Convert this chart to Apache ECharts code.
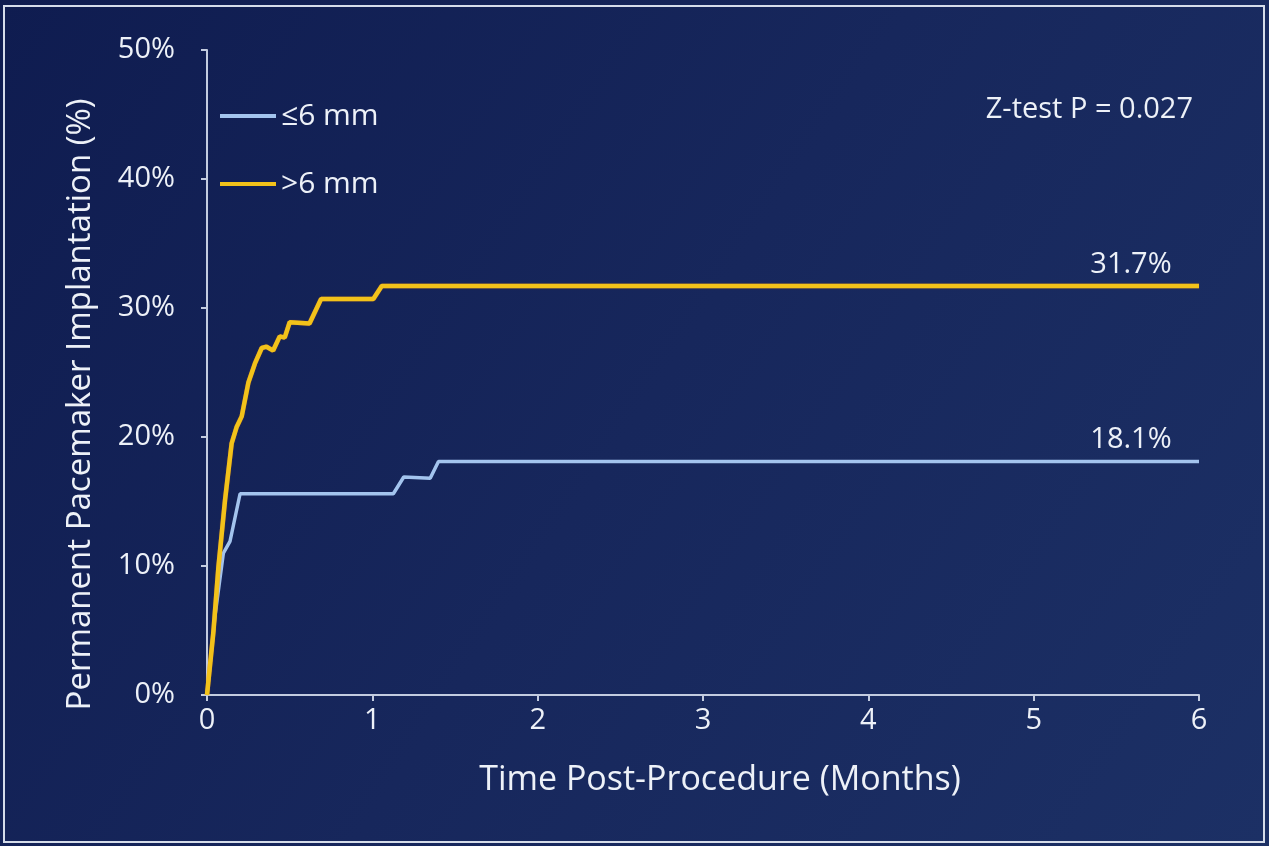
<!DOCTYPE html>
<html>
<head>
<meta charset="utf-8">
<script src="https://cdn.jsdelivr.net/npm/echarts@6/dist/echarts.min.js"></script>
<style>
  html, body { margin: 0; padding: 0; background: #101d50; }
  #chart { width: 1269px; height: 846px; }
</style>
</head>
<body>
<div id="chart"></div>
<script>
// Cumulative permanent pacemaker implantation by month after the procedure
const seriesNames = ['\u22646 mm', '>6 mm'];

// ≤6 mm group
const smallMonths = [0, 0.048, 0.099, 0.139, 0.20, 1.127, 1.19, 1.35, 1.40, 6];
const smallPct    = [0, 6.1, 11.0, 11.9, 15.6, 15.6, 16.9, 16.8, 18.1, 18.1];

// >6 mm group
const largeMonths = [0, 0.038, 0.069, 0.109, 0.149, 0.18, 0.21, 0.25, 0.29, 0.331, 0.36, 0.40, 0.44, 0.47, 0.50, 0.62, 0.69, 1.006, 1.057, 6];
const largePct    = [0, 4.8, 9.9, 15.1, 19.5, 20.8, 21.6, 24.2, 25.7, 26.9, 27.0, 26.7, 27.8, 27.7, 28.9, 28.8, 30.7, 30.7, 31.7, 31.7];

const xTicks = [0, 1, 2, 3, 4, 5, 6];
const yTicks = [0, 10, 20, 30, 40, 50];
const pValueText = 'Z-test P = 0.027';

const FONT = '"Open Sans", sans-serif';
const TEXT = '#edf1f8';
const AXIS = '#c3cce0';

// Pair x/y arrays; only the final point carries a (value) label
function buildData(xs, ys) {
  return xs.map((x, i) => {
    const item = { value: [x, ys[i]] };
    if (i === xs.length - 1) {
      item.label = {
        show: true,
        position: 'top',
        offset: [-68, 0],
        distance: 7,
        formatter: p => p.value[1].toFixed(1) + '%',
        color: TEXT,
        fontFamily: FONT,
        fontSize: 29
      };
    }
    return item;
  });
}

const chart = echarts.init(document.getElementById('chart'));
chart.setOption({
  backgroundColor: {
    type: 'linear', x: 0, y: 0, x2: 1, y2: 1,
    colorStops: [
      { offset: 0, color: '#0f1c50' },
      { offset: 0.5, color: '#17275c' },
      { offset: 1, color: '#1c3065' }
    ]
  },
  animation: false,
  graphic: [{
    type: 'rect',
    shape: { x: 4, y: 6, width: 1260, height: 836 },
    style: { fill: 'none', stroke: '#d5dcea', lineWidth: 2 },
    silent: true
  }],
  title: {
    text: pValueText,
    right: 76,
    top: 95,
    padding: 0,
    textStyle: { color: TEXT, fontFamily: FONT, fontSize: 29, fontWeight: 'normal' }
  },
  legend: {
    orient: 'vertical',
    left: 220,
    top: 101,
    padding: 0,
    itemGap: 38,
    itemWidth: 56,
    itemHeight: 4,
    icon: 'rect',
    data: seriesNames,
    textStyle: { color: TEXT, fontFamily: FONT, fontSize: 30 }
  },
  grid: { left: 207, right: 70, top: 50, bottom: 151 },
  xAxis: {
    type: 'value',
    min: xTicks[0],
    max: xTicks[xTicks.length - 1],
    interval: 1,
    name: 'Time Post-Procedure (Months)',
    nameLocation: 'middle',
    nameGap: 68,
    nameTextStyle: { color: TEXT, fontFamily: FONT, fontSize: 34, padding: [0, 0, 0, 34] },
    axisLine: { lineStyle: { color: AXIS, width: 2 } },
    axisTick: { show: true, length: 6, lineStyle: { color: AXIS, width: 2 } },
    axisLabel: { color: TEXT, fontFamily: FONT, fontSize: 29, margin: 11 },
    splitLine: { show: false }
  },
  yAxis: {
    type: 'value',
    min: yTicks[0],
    max: yTicks[yTicks.length - 1],
    interval: 10,
    name: 'Permanent Pacemaker Implantation (%)',
    nameLocation: 'middle',
    nameGap: 110,
    nameRotate: 90,
    nameTextStyle: { color: TEXT, fontFamily: FONT, fontSize: 33, padding: [0, 64, 0, 0] },
    axisLine: { show: true, lineStyle: { color: AXIS, width: 2 } },
    axisTick: { show: true, length: 6, lineStyle: { color: AXIS, width: 2 } },
    axisLabel: { color: TEXT, fontFamily: FONT, fontSize: 29, margin: 32, formatter: '{value}%' },
    splitLine: { show: false }
  },
  series: [
    {
      name: seriesNames[0],
      type: 'line',
      data: buildData(smallMonths, smallPct),
      showSymbol: true,
      symbol: 'circle',
      symbolSize: 0.01,
      z: 3,
      color: '#a3c4ee',
      lineStyle: { color: '#a3c4ee', width: 3.5 }
    },
    {
      name: seriesNames[1],
      type: 'line',
      data: buildData(largeMonths, largePct),
      showSymbol: true,
      symbol: 'circle',
      symbolSize: 0.01,
      z: 4,
      color: '#f2c21a',
      lineStyle: { color: '#f2c21a', width: 4.5, shadowColor: 'rgba(230,120,20,0.6)', shadowBlur: 1 }
    }
  ]
});
</script>
</body>
</html>
